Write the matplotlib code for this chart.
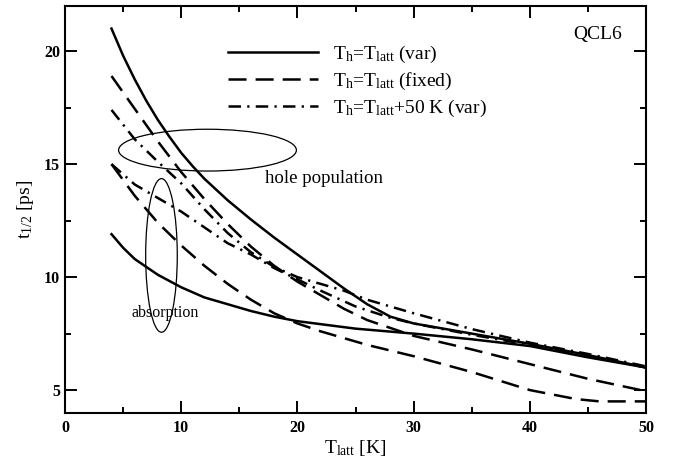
import numpy as np
import matplotlib
matplotlib.use('Agg')
import matplotlib.pyplot as plt
from matplotlib.patches import Ellipse
from matplotlib.ticker import MultipleLocator

plt.rcParams['font.family'] = 'Liberation Serif'
plt.rcParams['mathtext.fontset'] = 'custom'
plt.rcParams['mathtext.rm'] = 'Liberation Serif'
plt.rcParams['mathtext.it'] = 'Liberation Serif:italic'
plt.rcParams['mathtext.bf'] = 'Liberation Serif:bold'
plt.rcParams['lines.scale_dashes'] = False

# hole population, T_h = T_latt (var)
x_hole_var = [4, 5, 6, 7, 8, 9, 10, 11, 12, 14, 16, 18, 20, 22, 24, 26, 28, 30, 35, 40, 45, 50]
y_hole_var = [21.0, 19.8, 18.75, 17.8, 16.95, 16.2, 15.5, 14.9, 14.35, 13.4, 12.55, 11.75, 11.0, 10.25, 9.5, 8.8, 8.25, 7.95, 7.5, 7.05, 6.55, 6.0]

# absorption, T_h = T_latt (var)
x_abs_var = [4, 5, 6, 7, 8, 10, 12, 14, 16, 18, 20, 25, 30, 35, 40, 45, 50]
y_abs_var = [11.9, 11.3, 10.8, 10.45, 10.1, 9.55, 9.1, 8.8, 8.5, 8.25, 8.05, 7.72, 7.5, 7.25, 6.95, 6.45, 6.0]

# hole population, T_h = T_latt (fixed)
x_hole_fix = [4, 6, 8, 10, 12, 14, 16, 18, 20, 22, 24, 26, 30, 35, 40, 45, 50]
y_hole_fix = [18.9, 17.45, 16.0, 14.65, 13.45, 12.35, 11.35, 10.5, 9.8, 9.2, 8.6, 8.1, 7.4, 6.8, 6.15, 5.5, 4.95]

# absorption, T_h = T_latt (fixed)
x_abs_fix = [4, 6, 8, 10, 12, 14, 16, 18, 20, 22, 26, 30, 35, 40, 44, 46, 50]
y_abs_fix = [15.0, 13.6, 12.4, 11.4, 10.5, 9.7, 9.0, 8.4, 7.95, 7.6, 7.0, 6.5, 5.8, 5.0, 4.6, 4.5, 4.5]

# hole population, T_h = T_latt + 50 K (var)
x_hole_50 = [4, 6, 8, 10, 12, 14, 16, 18, 20, 22, 24, 26, 28, 30, 35, 40, 45, 50]
y_hole_50 = [17.4, 16.1, 15.1, 14.15, 13.0, 11.95, 11.1, 10.45, 10.0, 9.7, 9.4, 9.0, 8.7, 8.4, 7.7, 7.1, 6.6, 6.05]

# absorption, T_h = T_latt + 50 K (var)
x_abs_50 = [4, 6, 8, 10, 12, 14, 16, 18, 20, 22, 25, 28, 30, 35, 40, 45, 50]
y_abs_50 = [15.0, 14.1, 13.5, 12.9, 12.2, 11.5, 11.0, 10.4, 9.9, 9.4, 8.7, 8.2, 7.95, 7.45, 7.0, 6.5, 6.0]

lw = 1.8
dash = (0, (13, 6.5))
dashdot = (0, (9, 4.5, 1.6, 4.5))

fig = plt.figure(figsize=(6.73, 4.61), dpi=100)
ax = fig.add_axes([0.0966, 0.1048, 0.8634, 0.8822])

ax.plot(x_hole_var, y_hole_var, color='black', lw=lw, ls='-', label=r'T$_\mathrm{h}$=T$_\mathrm{latt}$ (var)')
ax.plot(x_hole_fix, y_hole_fix, color='black', lw=lw, ls=dash, label=r'T$_\mathrm{h}$=T$_\mathrm{latt}$ (fixed)')
ax.plot(x_hole_50, y_hole_50, color='black', lw=lw, ls=dashdot, label=r'T$_\mathrm{h}$=T$_\mathrm{latt}$+50 K (var)')
ax.plot(x_abs_var, y_abs_var, color='black', lw=lw, ls='-')
ax.plot(x_abs_fix, y_abs_fix, color='black', lw=lw, ls=dash)
ax.plot(x_abs_50, y_abs_50, color='black', lw=lw, ls=dashdot)

ax.add_patch(Ellipse((12.26, 15.62), 15.3, 1.85, fill=False, lw=0.9, color='black'))
ax.add_patch(Ellipse((8.3, 10.96), 2.72, 6.8, fill=False, lw=0.9, color='black'))

ax.text(17.2, 14.35, 'hole population', fontsize=13.6, va='center', ha='left')
ax.text(8.6, 8.4, 'absorption', fontsize=11.5, va='center', ha='center')
ax.text(45.8, 20.75, 'QCL6', fontsize=14, va='center', ha='center')

ax.set_xlim(0, 50)
ax.set_ylim(4, 22)
ax.xaxis.set_major_locator(MultipleLocator(10))
ax.xaxis.set_minor_locator(MultipleLocator(5))
ax.yaxis.set_major_locator(MultipleLocator(5))
ax.yaxis.set_minor_locator(MultipleLocator(2.5))
ax.tick_params(which='both', direction='in', top=True, right=True, width=1.4)
ax.tick_params(which='major', length=8.5)
ax.tick_params(which='minor', length=4.5)
ax.tick_params(axis='x', pad=5)
ax.tick_params(axis='y', pad=3.5)
for lab in ax.get_xticklabels() + ax.get_yticklabels():
    lab.set_fontweight('bold')
    lab.set_fontsize(11.5)
for s in ax.spines.values():
    s.set_linewidth(1.5)

ax.set_xlabel(r'T$_\mathrm{latt}$ [K]', fontsize=14, labelpad=2)
ax.set_ylabel(r't$_{1/2}$ [ps]', fontsize=14, labelpad=6)

ax.legend(loc='upper left', bbox_to_anchor=(0.28, 0.908), frameon=False, fontsize=14,
          handlelength=4.65, handletextpad=0.75, labelspacing=0.32, borderpad=0, borderaxespad=0)

plt.savefig('out.png', dpi=100)
